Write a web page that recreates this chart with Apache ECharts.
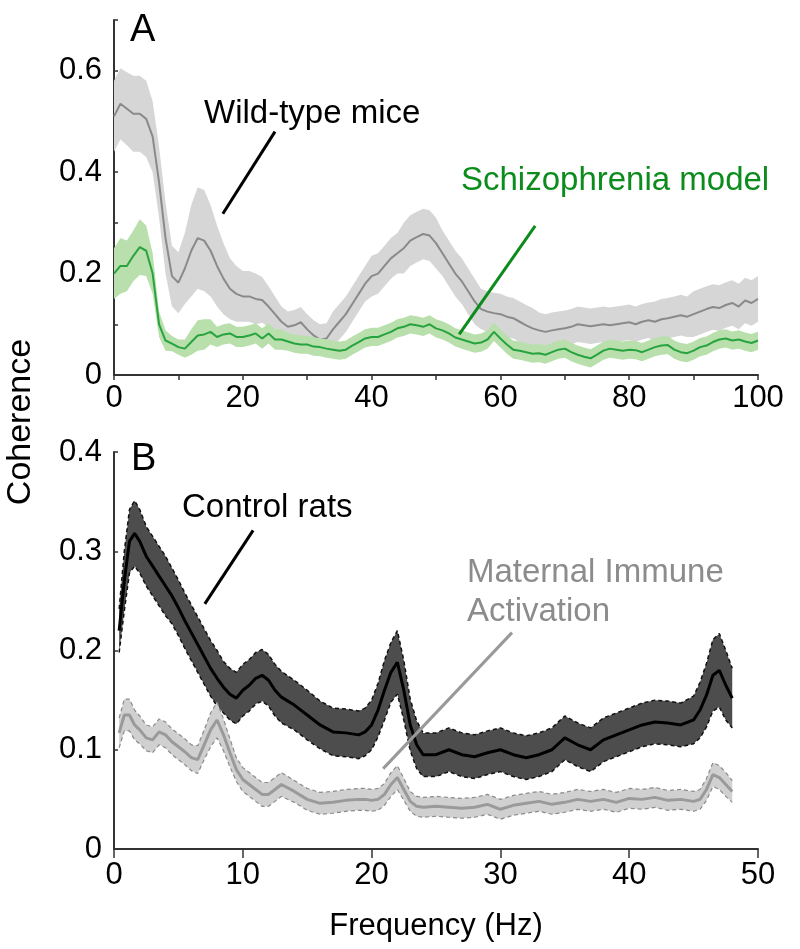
<!DOCTYPE html>
<html>
<head>
<meta charset="UTF-8">
<script src="https://cdn.jsdelivr.net/npm/echarts@6/dist/echarts.min.js"></script>
<style>
  html, body { margin: 0; padding: 0; background: #fff; }
  #main { width: 800px; height: 949px; }
</style>
</head>
<body>
<div id="main"></div>
<script>
// ---- panel A: mice (0-100 Hz) ----
var freqA = [0,1,2,3,4,5,6,7,8,9,10,11,12,13,14,15,16,17,18,19,20,21,22,23,24,25,26,27,28,29,30,
  31,32,33,34,35,36,37,38,39,40,41,42,43,44,45,46,47,48,49,50,51,52,53,54,55,56,57,58,59,60,
  61,62,63,64,65,66,67,68,69,70,71,72,73,74,75,76,77,78,79,80,81,82,83,84,85,86,87,88,89,90,
  91,92,93,94,95,96,97,98,99,100];
var wtMean = [.51,.535,.525,.515,.515,.505,.47,.38,.27,.195,.182,.21,.245,.27,.265,.245,.215,.19,.17,.16,.155,
  .155,.15,.148,.135,.12,.105,.095,.098,.104,.09,.078,.07,.072,.09,.105,.12,.14,.16,.18,.195,
  .2,.215,.23,.24,.25,.265,.272,.278,.275,.26,.24,.22,.2,.185,.165,.145,.13,.125,.122,.12,
  .115,.112,.105,.098,.092,.088,.085,.088,.09,.092,.095,.1,.098,.096,.098,.1,.098,.1,.102,.104,
  .1,.105,.108,.105,.11,.112,.115,.118,.115,.12,.125,.13,.134,.132,.138,.142,.135,.147,.142,.15];
var wtErr = [.07,.07,.072,.075,.075,.075,.07,.07,.07,.06,.06,.07,.09,.1,.1,.09,.08,.07,.06,.055,.05,
  .05,.05,.045,.04,.035,.03,.03,.03,.03,.03,.03,.03,.03,.035,.035,.035,.035,.035,.035,.04,
  .04,.04,.04,.04,.05,.05,.05,.05,.05,.05,.045,.045,.045,.045,.045,.045,.04,.04,.04,.04,
  .04,.04,.04,.04,.04,.035,.035,.035,.035,.035,.035,.035,.035,.035,.035,.035,.035,.035,.035,.035,
  .035,.035,.035,.04,.04,.04,.04,.04,.04,.045,.045,.045,.045,.045,.045,.045,.045,.045,.045,.045];
var szMean = [.2,.215,.215,.235,.252,.245,.2,.1,.068,.062,.055,.052,.065,.078,.08,.085,.075,.08,.082,.075,.075,
  .078,.082,.072,.082,.07,.07,.066,.062,.06,.06,.056,.055,.052,.05,.048,.05,.058,.065,.072,.075,
  .075,.08,.085,.092,.095,.1,.098,.095,.1,.092,.088,.082,.074,.07,.066,.062,.064,.07,.085,.072,
  .06,.05,.048,.045,.042,.043,.04,.045,.05,.052,.045,.04,.036,.033,.04,.048,.052,.05,.048,.05,
  .049,.045,.05,.055,.058,.059,.05,.045,.043,.048,.055,.058,.065,.07,.072,.068,.07,.066,.063,.068];
var szErr = [.05,.055,.05,.05,.055,.05,.04,.025,.02,.015,.015,.018,.025,.03,.03,.025,.02,.02,.02,.02,.02,
  .02,.02,.02,.02,.02,.02,.018,.018,.018,.018,.018,.018,.018,.018,.018,.018,.018,.018,.018,.018,
  .018,.018,.018,.018,.018,.018,.018,.018,.018,.018,.018,.018,.018,.018,.018,.018,.018,.018,.018,.018,
  .018,.018,.018,.018,.018,.018,.018,.018,.018,.018,.018,.018,.018,.018,.018,.018,.018,.018,.018,.018,
  .018,.018,.018,.018,.018,.018,.018,.018,.018,.018,.018,.018,.018,.018,.018,.018,.018,.018,.018,.018];

// ---- panel B: rats (0-50 Hz) ----
var freqB = [0.4,0.8,1.2,1.6,2,2.5,3,3.5,4,4.5,5,5.5,6,6.5,7,7.5,8,8.5,9,9.5,10,10.5,11,11.5,12,12.5,13,
  14,15,16,17,18,19,19.5,20,20.5,21,21.5,22,22.5,23,23.5,24,25,26,27,28,29,30,31,32,33,34,35,36,
  37,38,39,40,41,42,43,44,45,45.5,46,46.5,47,47.5,48];
var ctlMean = [.22,.27,.31,.318,.31,.295,.285,.275,.265,.255,.243,.23,.218,.206,.194,.182,.172,.163,.156,.152,.16,.165,.172,.175,.17,.16,.153,
  .145,.135,.125,.118,.117,.115,.118,.125,.14,.16,.178,.188,.16,.125,.105,.095,.095,.1,.095,.093,.097,.1,.095,.092,.095,.1,.112,.105,
  .1,.11,.115,.12,.125,.128,.127,.125,.13,.14,.155,.175,.18,.165,.152];
var ctlErr = [.022,.03,.032,.033,.032,.03,.03,.03,.03,.028,.028,.028,.028,.028,.028,.028,.028,.026,.026,.026,.026,.026,.026,.026,.026,.026,.026,
  .025,.025,.024,.024,.024,.024,.024,.025,.027,.03,.03,.032,.03,.026,.024,.022,.022,.022,.022,.022,.022,.022,.022,.022,.022,.022,.022,.022,
  .022,.022,.022,.022,.022,.022,.022,.022,.024,.028,.032,.036,.037,.035,.03];
var miaMean = [.117,.135,.135,.125,.12,.112,.11,.118,.115,.108,.103,.098,.092,.09,.105,.12,.13,.115,.097,.08,.07,.065,.06,.055,.055,.06,.065,
  .058,.05,.046,.047,.049,.05,.05,.049,.05,.055,.065,.072,.06,.048,.043,.042,.043,.042,.041,.042,.045,.04,.044,.046,.048,.045,.047,.05,
  .048,.05,.047,.051,.05,.052,.049,.05,.048,.05,.06,.075,.072,.065,.058];
var miaErr = [.015,.016,.016,.015,.014,.013,.013,.013,.013,.013,.013,.013,.013,.014,.015,.017,.018,.016,.014,.012,.012,.012,.012,.012,.012,.012,.012,
  .011,.011,.011,.011,.011,.011,.011,.011,.011,.011,.012,.012,.011,.01,.01,.01,.01,.01,.01,.01,.01,.01,.01,.01,.01,.01,.01,.01,
  .01,.01,.01,.01,.01,.01,.01,.01,.01,.01,.011,.012,.012,.012,.011];

var FONT = 'Liberation Sans, Arial, sans-serif';

function pairs(xs, ys) {
  return xs.map(function (x, i) { return [x, ys[i]]; });
}

// shaded band: one polygon (upper edge forwards, lower edge backwards) in data coords
function band(xs, mean, err, color, gi, z) {
  var rows = xs.map(function (x, i) { return [x, mean[i] - err[i], mean[i] + err[i]]; });
  return {
    type: 'custom', xAxisIndex: gi, yAxisIndex: gi, silent: true, animation: false, z: z,
    clip: true,
    encode: { x: 0, y: [1, 2] },
    data: rows,
    renderItem: function (params, api) {
      if (params.dataIndex !== 0) return null;
      var pts = [];
      for (var i = 0; i < rows.length; i++) pts.push(api.coord([rows[i][0], rows[i][2]]));
      for (var j = rows.length - 1; j >= 0; j--) pts.push(api.coord([rows[j][0], rows[j][1]]));
      return { type: 'polygon', shape: { points: pts }, style: { fill: color } };
    }
  };
}

function edge(xs, mean, err, sign, color, width, gi, z) {
  return {
    type: 'line', xAxisIndex: gi, yAxisIndex: gi, symbol: 'none', silent: true, animation: false, z: z,
    data: pairs(xs, mean.map(function (m, i) { return m + sign * err[i]; })),
    lineStyle: { color: color, width: width, type: [4, 3] }
  };
}

function meanLine(xs, mean, color, width, gi, z) {
  return {
    type: 'line', xAxisIndex: gi, yAxisIndex: gi, symbol: 'none', silent: true, animation: false, z: z,
    data: pairs(xs, mean), lineStyle: { color: color, width: width }
  };
}

function pointer(gi, from, to, color) {
  return {
    type: 'line', xAxisIndex: gi, yAxisIndex: gi, data: [], silent: true, animation: false, z: 20,
    markLine: {
      symbol: 'none', silent: true, animation: false, label: { show: false },
      lineStyle: { color: color, width: 3, type: 'solid' },
      data: [[{ coord: from }, { coord: to }]]
    }
  };
}

var axisLine = { show: true, lineStyle: { color: '#333', width: 2 } };
var labelStyle = { color: '#000', fontSize: 31, fontFamily: FONT };

var chart = echarts.init(document.getElementById('main'), null, { renderer: 'canvas' });

var option = {
  backgroundColor: '#fff',
  animation: false,
  grid: [
    { left: 114, right: 42, top: 20, height: 355 },
    { left: 114, right: 42, top: 452, height: 397 }
  ],
  xAxis: [
    { type: 'value', gridIndex: 0, min: 0, max: 100, interval: 10,
      axisLine: axisLine, splitLine: { show: false },
      axisTick: { show: true, length: 5, lineStyle: { color: '#333', width: 1.5 } },
      axisLabel: Object.assign({ margin: 8, formatter: function (v) { return v % 20 === 0 ? v : ''; } }, labelStyle) },
    { type: 'value', gridIndex: 1, min: 0, max: 50, interval: 10,
      axisLine: axisLine, splitLine: { show: false },
      axisTick: { show: true, length: 9, lineStyle: { color: '#333', width: 1.5 } },
      axisLabel: Object.assign({ margin: 11 }, labelStyle),
      name: 'Frequency (Hz)', nameLocation: 'middle', nameGap: 62,
      nameTextStyle: { color: '#000', fontSize: 31, fontFamily: FONT } }
  ],
  yAxis: [
    { type: 'value', gridIndex: 0, min: 0, max: 0.7, interval: 0.1,
      axisLine: axisLine, splitLine: { show: false },
      axisTick: { show: true, inside: true, length: 4, lineStyle: { color: '#333', width: 1.5 } },
      axisLabel: Object.assign({ margin: 12, formatter: function (v) {
        var k = Math.round(v * 10);
        return k % 2 === 0 ? (k === 0 ? '0' : (k / 10).toFixed(1)) : '';
      } }, labelStyle) },
    { type: 'value', gridIndex: 1, min: 0, max: 0.4, interval: 0.1,
      axisLine: axisLine, splitLine: { show: false },
      axisTick: { show: true, inside: true, length: 4, lineStyle: { color: '#333', width: 1.5 } },
      axisLabel: Object.assign({ margin: 12, formatter: function (v) {
        var k = Math.round(v * 10);
        return k === 0 ? '0' : (k / 10).toFixed(1);
      } }, labelStyle) }
  ],
  series: [
    band(freqA, wtMean, wtErr, '#d6d6d6', 0, 2),
    meanLine(freqA, wtMean, '#8a8a8a', 2, 0, 3),
    band(freqA, szMean, szErr, '#b9e0ac', 0, 4),
    meanLine(freqA, szMean, '#27a33f', 2, 0, 5),
    band(freqB, ctlMean, ctlErr, '#4d4d4d', 1, 2),
    edge(freqB, ctlMean, ctlErr, 1, '#111', 1.5, 1, 3),
    edge(freqB, ctlMean, ctlErr, -1, '#111', 1.5, 1, 3),
    meanLine(freqB, ctlMean, '#000', 3, 1, 4),
    band(freqB, miaMean, miaErr, '#d0d0d0', 1, 5),
    edge(freqB, miaMean, miaErr, 1, '#8a8a8a', 1.2, 1, 6),
    edge(freqB, miaMean, miaErr, -1, '#8a8a8a', 1.2, 1, 6),
    meanLine(freqB, miaMean, '#9a9a9a', 3, 1, 7),
    pointer(0, [16.9, 0.318], [25, 0.48], '#000'),
    pointer(0, [53.6, 0.08], [65.4, 0.294], '#0c8c1c'),
    pointer(1, [7.05, 0.247], [10.8, 0.321], '#000'),
    pointer(1, [20.9, 0.081], [30.9, 0.218], '#999')
  ],
  graphic: [
    { type: 'text', left: 130, top: 12, z: 100, style: { text: 'A', fontSize: 38, fontFamily: FONT, fill: '#000' } },
    { type: 'text', left: 131, top: 441, z: 100, style: { text: 'B', fontSize: 38, fontFamily: FONT, fill: '#000' } },
    { type: 'text', left: 204, top: 97, z: 100, style: { text: 'Wild-type mice', fontSize: 33, fontFamily: FONT, fill: '#000' } },
    { type: 'text', left: 461, top: 164, z: 100, style: { text: 'Schizophrenia model', fontSize: 33, fontFamily: FONT, fill: '#0c8c1c' } },
    { type: 'text', left: 182, top: 491, z: 100, style: { text: 'Control rats', fontSize: 33, fontFamily: FONT, fill: '#000' } },
    { type: 'text', left: 467, top: 553, z: 100, style: { text: 'Maternal Immune\nActivation', fontSize: 33, lineHeight: 39, fontFamily: FONT, fill: '#8c8c8c' } },
    { type: 'text', x: 21, y: 422, rotation: Math.PI / 2, z: 100,
      style: { text: 'Coherence', fontSize: 34, fontFamily: FONT, fill: '#000', align: 'center', verticalAlign: 'middle' } }
  ]
};

chart.setOption(option);
</script>
</body>
</html>
